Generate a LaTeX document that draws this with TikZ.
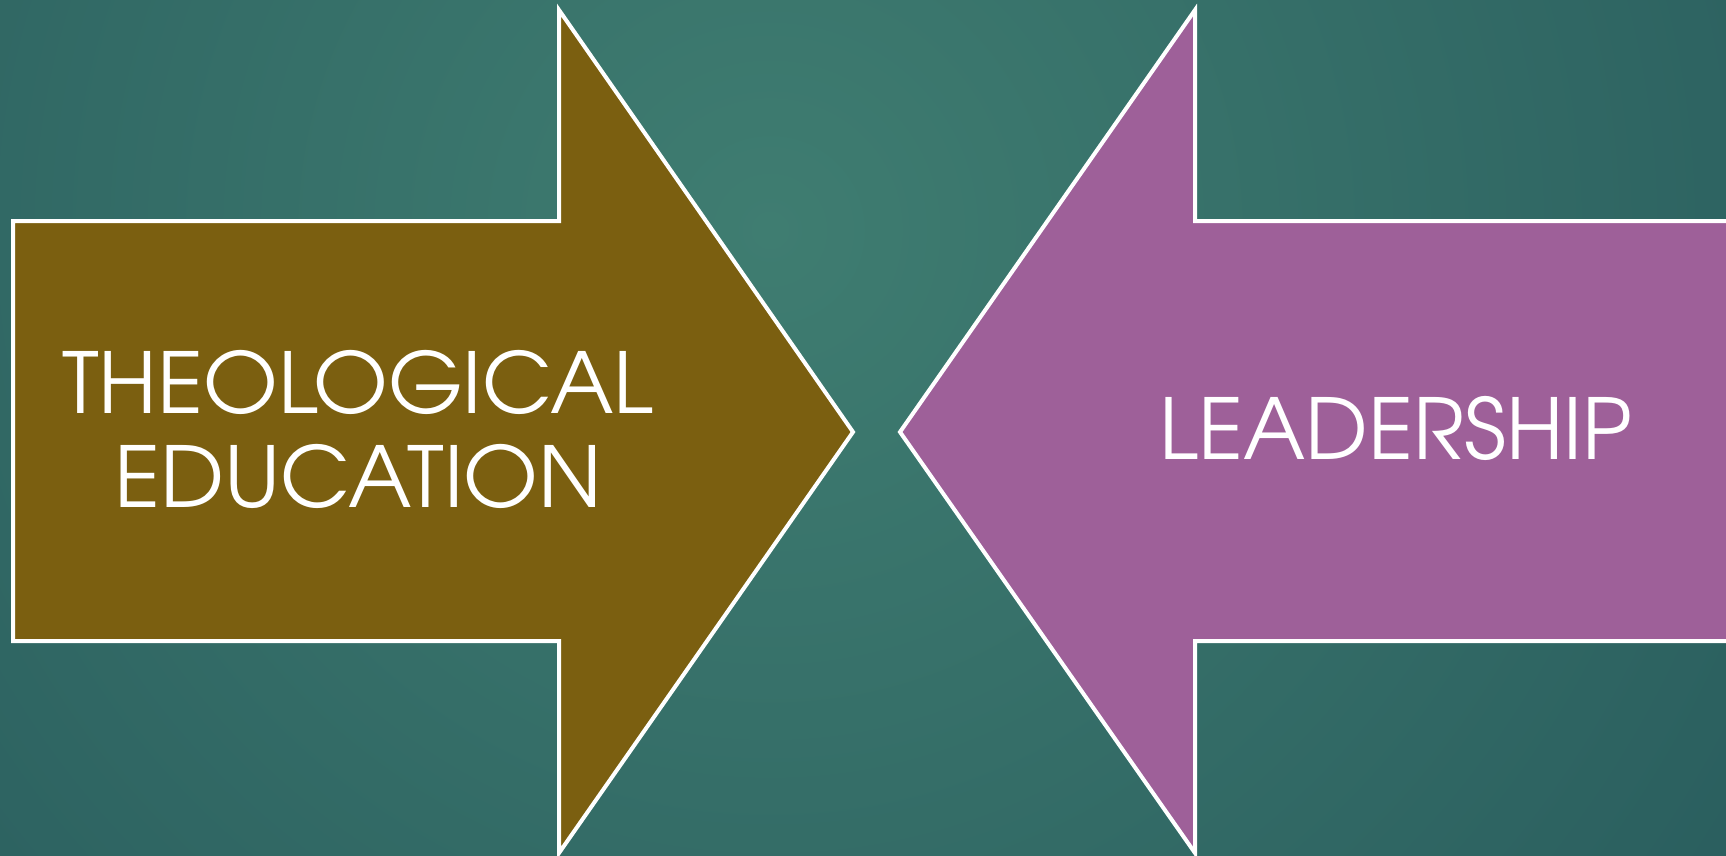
\documentclass[tikz,border=0pt]{standalone}
\usepackage{fontspec}
\usepackage{tikz}
\usetikzlibrary{calc}

\newfontfamily\gothicfont{texgyreadventor-regular.otf}
\newfontfamily\gothicwide[FakeStretch=1.022]{texgyreadventor-regular.otf}

\definecolor{bgmid}{RGB}{63,125,113}
\definecolor{bgedge}{RGB}{27,72,81}
\definecolor{olivefill}{RGB}{123,95,16}
\definecolor{mauvefill}{RGB}{158,96,153}

\tikzset{
  arrowline/.style={draw=white, line width=4pt, line join=miter},
  arrowtext/.style={text=white, align=center, inner sep=0pt}
}

\begin{document}
\begin{tikzpicture}[x=1pt, y=-1pt]
			%%%%% START %%%%%
			
			\useasboundingbox (0, 0) rectangle (1726, 856);
			\begin{scope}
			\clip (0, 0) rectangle (1726, 856);
			\fill[bgedge] (0, 0) rectangle (1726, 856);
			\shade[inner color=bgmid, outer color=bgedge] (770, 230) circle (2000);
			
			% pointing right
			\draw[arrowline, fill=olivefill] (13, 221) -- (559, 221) -- (559, 10) -- (853, 432)
			  -- (559, 853) -- (559, 641) -- (13, 641) -- cycle;
			
			% pointing left
			\draw[arrowline, fill=mauvefill] (1740, 221) -- (1195, 221) -- (1195, 10) -- (900, 432)
			  -- (1195, 853) -- (1195, 641) -- (1740, 641);
			\end{scope}
			
			\node[arrowtext, font=\gothicwide\fontsize{84}{94}\selectfont] (theo) at (358, 429)
			  {THEOLOGICAL\\EDUCATION};
			\node[arrowtext, font=\gothicfont\fontsize{84}{94}\selectfont] (lead) at (1396, 428)
			  {LEADERSHIP};
			
			%%%%% END %%%%%
\end{tikzpicture}
\end{document}
